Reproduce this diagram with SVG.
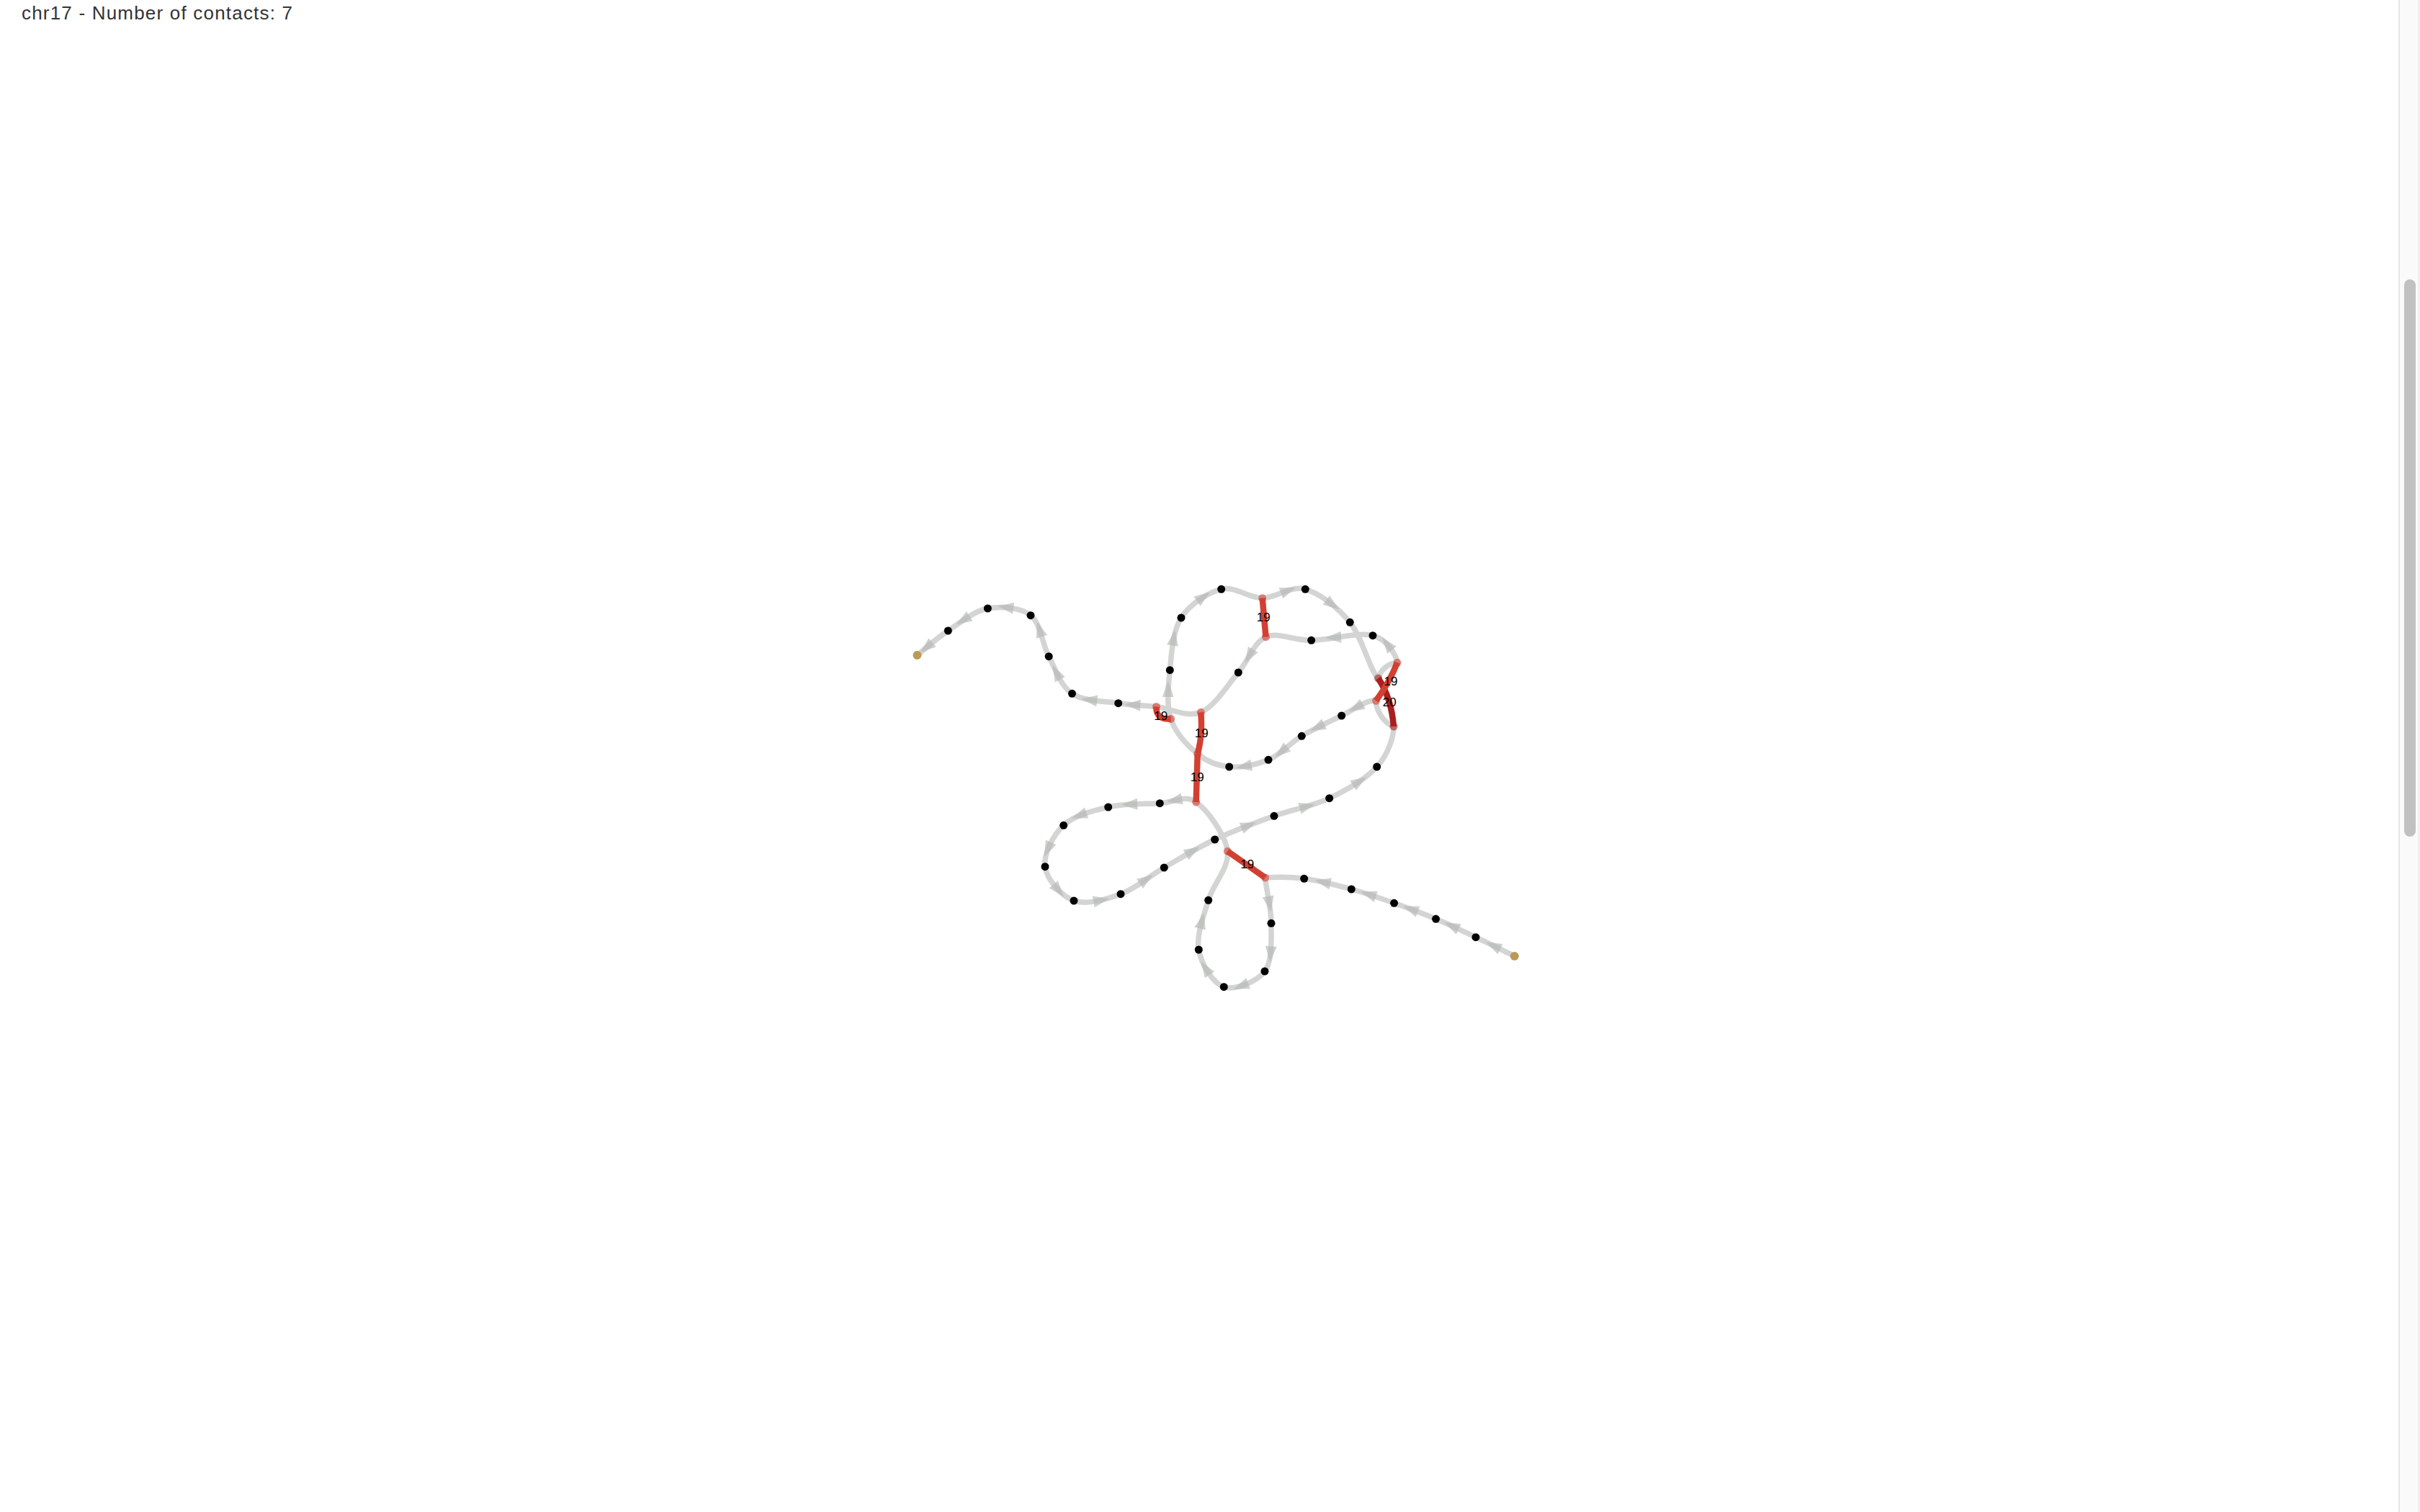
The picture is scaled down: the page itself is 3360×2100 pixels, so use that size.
<svg xmlns="http://www.w3.org/2000/svg" xmlns:xlink="http://www.w3.org/1999/xlink" width="3360" height="2100" viewBox="0 0 3360 2100">
<style>
.e{fill:none;stroke:#d3d5d3;stroke-width:7.5;stroke-linecap:round}
.a{fill:#b3b8b3;fill-opacity:0.65}
.c{fill:none;stroke:#d24032;stroke-width:8.5;stroke-linecap:butt}
.c20{stroke:#a81f1f}
.ce{fill:#d24032;fill-opacity:0.6}
.ce20{fill:#a81f1f;fill-opacity:0.6}
.b{fill:#000}
.g{fill:#b99b57}
.lbl{font-family:"Liberation Sans",Arial,sans-serif;font-size:17px;fill:#000;text-anchor:middle;dominant-baseline:central}
.title{font-family:"Liberation Sans",Arial,sans-serif;font-size:26px;fill:#333}
</style>
<defs>
<polygon id="arr" points="-4,-8 18,0 -4,8"/>
</defs>
<rect x="0" y="0" width="3360" height="2100" fill="#fff"/>
<text class="title" x="30" y="27" textLength="376" lengthAdjust="spacing">chr17 - Number of contacts: 7</text>
<g id="scrollbar">
<rect x="3330" y="0" width="30" height="2100" fill="#fafafa"/>
<line x1="3331" y1="0" x2="3331" y2="2100" stroke="#e6e6e6" stroke-width="2"/>
<line x1="3358.5" y1="0" x2="3358.5" y2="2100" stroke="#ececec" stroke-width="2"/>
<rect x="3338" y="388" width="16" height="774" rx="8" fill="#c1c1c1"/>
</g>
<g id="connectors">
<path class="e" d="M2102.8,1328 C2093.8,1323.6 2067.2,1310.3 2049,1301.7"/>
<path class="e" d="M2049,1301.7 C2030.8,1293.1 2012.5,1284.2 1993.6,1276.3"/>
<path class="e" d="M1993.6,1276.3 C1974.7,1268.4 1955.2,1261.2 1935.6,1254.3"/>
<path class="e" d="M1935.6,1254.3 C1916.1,1247.4 1897.1,1240.7 1876.3,1235"/>
<path class="e" d="M1876.3,1235 C1855.5,1229.3 1830.6,1223 1810.7,1220.3"/>
<path class="e" d="M1810.7,1220.3 C1790.8,1217.6 1772,1218 1756.7,1219"/>
<path class="e" d="M1756.7,1219 C1758,1236 1765.1,1260.6 1765,1282.3"/>
<path class="e" d="M1765,1282.3 C1764.9,1304 1767,1334.3 1756,1349"/>
<path class="e" d="M1756,1349 C1745.1,1363.7 1714.6,1375.7 1699.3,1370.7"/>
<path class="e" d="M1699.3,1370.7 C1684,1365.7 1667.9,1339.1 1664.3,1319"/>
<path class="e" d="M1664.3,1319 C1660.7,1298.9 1671,1273.1 1677.7,1250.3"/>
<path class="e" d="M1677.7,1250.3 C1684.4,1227.5 1707.1,1205 1704.3,1182.3"/>
<path class="e" d="M1704.3,1182.3 C1701.5,1159.6 1676.4,1125.1 1660.7,1114"/>
<path class="e" d="M1660.7,1114 C1645,1102.9 1630.6,1114.5 1610.3,1115.7"/>
<path class="e" d="M1610.3,1115.7 C1590,1116.9 1561,1115.9 1538.7,1121"/>
<path class="e" d="M1538.7,1121 C1516.4,1126.1 1491.3,1132.5 1476.7,1146.3"/>
<path class="e" d="M1476.7,1146.3 C1462.1,1160.1 1448.6,1186.3 1451,1203.7"/>
<path class="e" d="M1451,1203.7 C1453.4,1221.2 1473.5,1244.7 1491,1251"/>
<path class="e" d="M1491,1251 C1508.5,1257.3 1535.1,1249.4 1556,1241.7"/>
<path class="e" d="M1556,1241.7 C1576.9,1234 1594.5,1217.6 1616.3,1205"/>
<path class="e" d="M1616.3,1205 C1638.1,1192.4 1661.3,1178 1686.7,1166"/>
<path class="e" d="M1686.7,1166 C1712.2,1154.1 1742.5,1142.9 1769,1133.3"/>
<path class="e" d="M1769,1133.3 C1795.5,1123.8 1821.9,1120.1 1845.7,1108.7"/>
<path class="e" d="M1845.7,1108.7 C1869.5,1097.3 1896.8,1081.6 1911.7,1065"/>
<path class="e" d="M1911.7,1065 C1926.6,1048.4 1935.2,1024.3 1935,1009"/>
<path class="e" d="M1935,1009 C1922,1004 1910.5,988 1910.5,973.3"/>
<path class="e" d="M1910.5,973.3 C1898.5,970.8 1879.9,985.8 1862.7,994"/>
<path class="e" d="M1862.7,994 C1845.5,1002.2 1824.3,1012.1 1807.3,1022.3"/>
<path class="e" d="M1807.3,1022.3 C1790.4,1032.5 1777.8,1048.2 1761,1055.3"/>
<path class="e" d="M1761,1055.3 C1744.2,1062.4 1723.1,1066.4 1706.7,1065"/>
<path class="e" d="M1706.7,1065 C1690.3,1063.6 1676.2,1058.1 1662.7,1047"/>
<path class="e" d="M1662.7,1047 C1649.2,1035.9 1632.1,1017.9 1625.7,998.5"/>
<path class="e" d="M1625.7,998.5 C1619.3,979.1 1621.9,954.1 1624.3,930.7"/>
<path class="e" d="M1624.3,930.7 C1626.7,907.3 1628.1,876.7 1640,858"/>
<path class="e" d="M1640,858 C1651.9,839.3 1676.9,822.9 1695.7,818.3"/>
<path class="e" d="M1695.7,818.3 C1714.5,813.8 1733.3,830.7 1752.7,830.7"/>
<path class="e" d="M1752.7,830.7 C1772.1,830.7 1792,812.7 1812.3,818.3"/>
<path class="e" d="M1812.3,818.3 C1832.6,823.9 1857.4,843.7 1874.3,864.3"/>
<path class="e" d="M1874.3,864.3 C1891.2,884.9 1902.6,932.7 1913.5,942"/>
<path class="e" d="M1913.5,942 C1917,930 1928,921 1940,920.3"/>
<path class="e" d="M1940,920.3 C1938.8,910.4 1925.9,887.9 1906,882.7"/>
<path class="e" d="M1906,882.7 C1886.1,877.5 1845.5,889 1820.7,889.3"/>
<path class="e" d="M1820.7,889.3 C1796,889.6 1774.4,877.3 1757.5,884.7"/>
<path class="e" d="M1757.5,884.7 C1740.6,892.2 1734.3,916.6 1719.3,934"/>
<path class="e" d="M1719.3,934 C1704.3,951.4 1686.3,981.4 1667.3,989.3"/>
<path class="e" d="M1667.3,989.3 C1648.3,997.2 1624.6,983.6 1605.5,981.5"/>
<path class="e" d="M1605.5,981.5 C1586.4,979.4 1572.2,979.7 1552.7,976.7"/>
<path class="e" d="M1552.7,976.7 C1533.2,973.7 1504.6,974.1 1488.5,963.3"/>
<path class="e" d="M1488.5,963.3 C1472.4,952.5 1465.8,929.8 1456.2,911.7"/>
<path class="e" d="M1456.2,911.7 C1446.6,893.6 1445.1,865.8 1431,854.7"/>
<path class="e" d="M1431,854.7 C1416.9,843.6 1390.5,841.5 1371.4,845"/>
<path class="e" d="M1371.4,845 C1352.3,848.6 1332.6,865.2 1316.3,876"/>
<path class="e" d="M1316.3,876 C1300,886.8 1280.6,904.3 1273.5,910"/>
<g id="arrows">
<use href="#arr" class="a" transform="translate(2079.4,1316.4) rotate(206.2)"/>
<use href="#arr" class="a" transform="translate(2021.6,1288.7) rotate(205)"/>
<use href="#arr" class="a" transform="translate(1964.8,1264.9) rotate(200.6)"/>
<use href="#arr" class="a" transform="translate(1906.4,1244.2) rotate(198.4)"/>
<use href="#arr" class="a" transform="translate(1843.2,1226.5) rotate(193.1)"/>
<use href="#arr" class="a" transform="translate(1761.4,1248.9) rotate(80.1)"/>
<use href="#arr" class="a" transform="translate(1764.6,1318.3) rotate(94.1)"/>
<use href="#arr" class="a" transform="translate(1729.3,1367.2) rotate(158.9)"/>
<use href="#arr" class="a" transform="translate(1677.4,1350.5) rotate(236.9)"/>
<use href="#arr" class="a" transform="translate(1667.1,1285.7) rotate(284.1)"/>
<use href="#arr" class="a" transform="translate(1637.2,1110.2) rotate(168.4)"/>
<use href="#arr" class="a" transform="translate(1575.2,1116.9) rotate(177.5)"/>
<use href="#arr" class="a" transform="translate(1504.8,1130.4) rotate(160)"/>
<use href="#arr" class="a" transform="translate(1457.5,1173.6) rotate(115.1)"/>
<use href="#arr" class="a" transform="translate(1465.3,1231.5) rotate(49.7)"/>
<use href="#arr" class="a" transform="translate(1522.2,1251.6) rotate(349.3)"/>
<use href="#arr" class="a" transform="translate(1585.8,1225.2) rotate(325.7)"/>
<use href="#arr" class="a" transform="translate(1650.1,1185.2) rotate(330.3)"/>
<use href="#arr" class="a" transform="translate(1727.5,1148.8) rotate(338.7)"/>
<use href="#arr" class="a" transform="translate(1808.4,1121.7) rotate(344.7)"/>
<use href="#arr" class="a" transform="translate(1882,1088.8) rotate(327.5)"/>
<use href="#arr" class="a" transform="translate(1888.5,979.6) rotate(151.7)"/>
<use href="#arr" class="a" transform="translate(1834.9,1007.4) rotate(153.5)"/>
<use href="#arr" class="a" transform="translate(1784.1,1040) rotate(140.4)"/>
<use href="#arr" class="a" transform="translate(1733.7,1063.3) rotate(169.7)"/>
<use href="#arr" class="a" transform="translate(1621.7,964) rotate(270.8)"/>
<use href="#arr" class="a" transform="translate(1628.6,892.6) rotate(279.4)"/>
<use href="#arr" class="a" transform="translate(1665.3,832.8) rotate(325.2)"/>
<use href="#arr" class="a" transform="translate(1782.2,822.4) rotate(339.1)"/>
<use href="#arr" class="a" transform="translate(1844.6,835.7) rotate(37.1)"/>
<use href="#arr" class="a" transform="translate(1930,899.7) rotate(232.1)"/>
<use href="#arr" class="a" transform="translate(1858,885) rotate(177)"/>
<use href="#arr" class="a" transform="translate(1737.7,905.6) rotate(121.1)"/>
<use href="#arr" class="a" transform="translate(1579.3,979.4) rotate(183.8)"/>
<use href="#arr" class="a" transform="translate(1519.3,972.9) rotate(187.9)"/>
<use href="#arr" class="a" transform="translate(1469.9,940.2) rotate(242.3)"/>
<use href="#arr" class="a" transform="translate(1445.3,880.6) rotate(252.5)"/>
<use href="#arr" class="a" transform="translate(1403.1,844.3) rotate(187.8)"/>
<use href="#arr" class="a" transform="translate(1342.8,857.8) rotate(147.5)"/>
<use href="#arr" class="a" transform="translate(1291.5,894.9) rotate(140.4)"/>
</g>
</g>
<g id="contacts">
<g id="contact-A">
<path class="c" d="M1756.7,1219 L1704.3,1182.3"/>
<circle class="ce" cx="1756.7" cy="1219" r="5.5"/><circle class="ce" cx="1704.3" cy="1182.3" r="5.5"/>
</g>
<g id="contact-B">
<path class="c" d="M1660.7,1114 L1662.7,1047"/>
<circle class="ce" cx="1660.7" cy="1114" r="5.5"/>
</g>
<g id="contact-C">
<path class="c" d="M1662.7,1047 Q1670,1021.7 1667.3,989.3"/>
<circle class="ce" cx="1662.7" cy="1047" r="5.5"/><circle class="ce" cx="1667.3" cy="989.3" r="5.5"/>
</g>
<g id="contact-D">
<path class="c" d="M1625.7,998.5 Q1604.4,1000 1605.5,981.5"/>
<circle class="ce" cx="1625.7" cy="998.5" r="5.5"/><circle class="ce" cx="1605.5" cy="981.5" r="5.5"/>
</g>
<g id="contact-E">
<path class="c" d="M1752.7,830.7 L1757.5,884.7"/>
<circle class="ce" cx="1752.7" cy="830.7" r="5.5"/><circle class="ce" cx="1757.5" cy="884.7" r="5.5"/>
</g>
<g id="contact-G">
<path class="c c20" d="M1913.5,942 Q1931.8,969 1935,1009"/>
<circle class="ce20" cx="1913.5" cy="942" r="5.5"/><circle class="ce20" cx="1935" cy="1009" r="5.5"/>
</g>
<g id="contact-F">
<path class="c" d="M1940,920.3 Q1929.8,946.8 1910.5,973.3"/>
<circle class="ce" cx="1940" cy="920.3" r="5.5"/><circle class="ce" cx="1910.5" cy="973.3" r="5.5"/>
</g>
</g>
<g id="nodes">
<g id="n1"><circle class="g" cx="2102.8" cy="1328" r="6"/></g>
<g id="n2"><circle class="b" cx="2049" cy="1301.7" r="5.5"/></g>
<g id="n3"><circle class="b" cx="1993.6" cy="1276.3" r="5.5"/></g>
<g id="n4"><circle class="b" cx="1935.6" cy="1254.3" r="5.5"/></g>
<g id="n5"><circle class="b" cx="1876.3" cy="1235" r="5.5"/></g>
<g id="n6"><circle class="b" cx="1810.7" cy="1220.3" r="5.5"/></g>
<g id="n8"><circle class="b" cx="1765" cy="1282.3" r="5.5"/></g>
<g id="n9"><circle class="b" cx="1756" cy="1349" r="5.5"/></g>
<g id="n10"><circle class="b" cx="1699.3" cy="1370.7" r="5.5"/></g>
<g id="n11"><circle class="b" cx="1664.3" cy="1319" r="5.5"/></g>
<g id="n12"><circle class="b" cx="1677.7" cy="1250.3" r="5.5"/></g>
<g id="n15"><circle class="b" cx="1610.3" cy="1115.7" r="5.5"/></g>
<g id="n16"><circle class="b" cx="1538.7" cy="1121" r="5.5"/></g>
<g id="n17"><circle class="b" cx="1476.7" cy="1146.3" r="5.5"/></g>
<g id="n18"><circle class="b" cx="1451" cy="1203.7" r="5.5"/></g>
<g id="n19"><circle class="b" cx="1491" cy="1251" r="5.5"/></g>
<g id="n20"><circle class="b" cx="1556" cy="1241.7" r="5.5"/></g>
<g id="n21"><circle class="b" cx="1616.3" cy="1205" r="5.5"/></g>
<g id="n22"><circle class="b" cx="1686.7" cy="1166" r="5.5"/></g>
<g id="n23"><circle class="b" cx="1769" cy="1133.3" r="5.5"/></g>
<g id="n24"><circle class="b" cx="1845.7" cy="1108.7" r="5.5"/></g>
<g id="n25"><circle class="b" cx="1911.7" cy="1065" r="5.5"/></g>
<g id="n28"><circle class="b" cx="1862.7" cy="994" r="5.5"/></g>
<g id="n29"><circle class="b" cx="1807.3" cy="1022.3" r="5.5"/></g>
<g id="n30"><circle class="b" cx="1761" cy="1055.3" r="5.5"/></g>
<g id="n31"><circle class="b" cx="1706.7" cy="1065" r="5.5"/></g>
<g id="n34"><circle class="b" cx="1624.3" cy="930.7" r="5.5"/></g>
<g id="n35"><circle class="b" cx="1640" cy="858" r="5.5"/></g>
<g id="n36"><circle class="b" cx="1695.7" cy="818.3" r="5.5"/></g>
<g id="n38"><circle class="b" cx="1812.3" cy="818.3" r="5.5"/></g>
<g id="n39"><circle class="b" cx="1874.3" cy="864.3" r="5.5"/></g>
<g id="n42"><circle class="b" cx="1906" cy="882.7" r="5.5"/></g>
<g id="n43"><circle class="b" cx="1820.7" cy="889.3" r="5.5"/></g>
<g id="n45"><circle class="b" cx="1719.3" cy="934" r="5.5"/></g>
<g id="n48"><circle class="b" cx="1552.7" cy="976.7" r="5.5"/></g>
<g id="n49"><circle class="b" cx="1488.5" cy="963.3" r="5.5"/></g>
<g id="n50"><circle class="b" cx="1456.2" cy="911.7" r="5.5"/></g>
<g id="n51"><circle class="b" cx="1431" cy="854.7" r="5.5"/></g>
<g id="n52"><circle class="b" cx="1371.4" cy="845" r="5.5"/></g>
<g id="n53"><circle class="b" cx="1316.3" cy="876" r="5.5"/></g>
<g id="n54"><circle class="g" cx="1273.5" cy="910" r="6"/></g>
</g>
<g id="contact-labels">
<text class="lbl" x="1731.7" y="1200">19</text>
<text class="lbl" x="1662.3" y="1079">19</text>
<text class="lbl" x="1668.3" y="1018.3">19</text>
<text class="lbl" x="1611.7" y="994.3">19</text>
<text class="lbl" x="1754.3" y="857.3">19</text>
<text class="lbl" x="1931" y="946.7">19</text>
<text class="lbl" x="1929.3" y="975.7">20</text>
</g>
</svg>
